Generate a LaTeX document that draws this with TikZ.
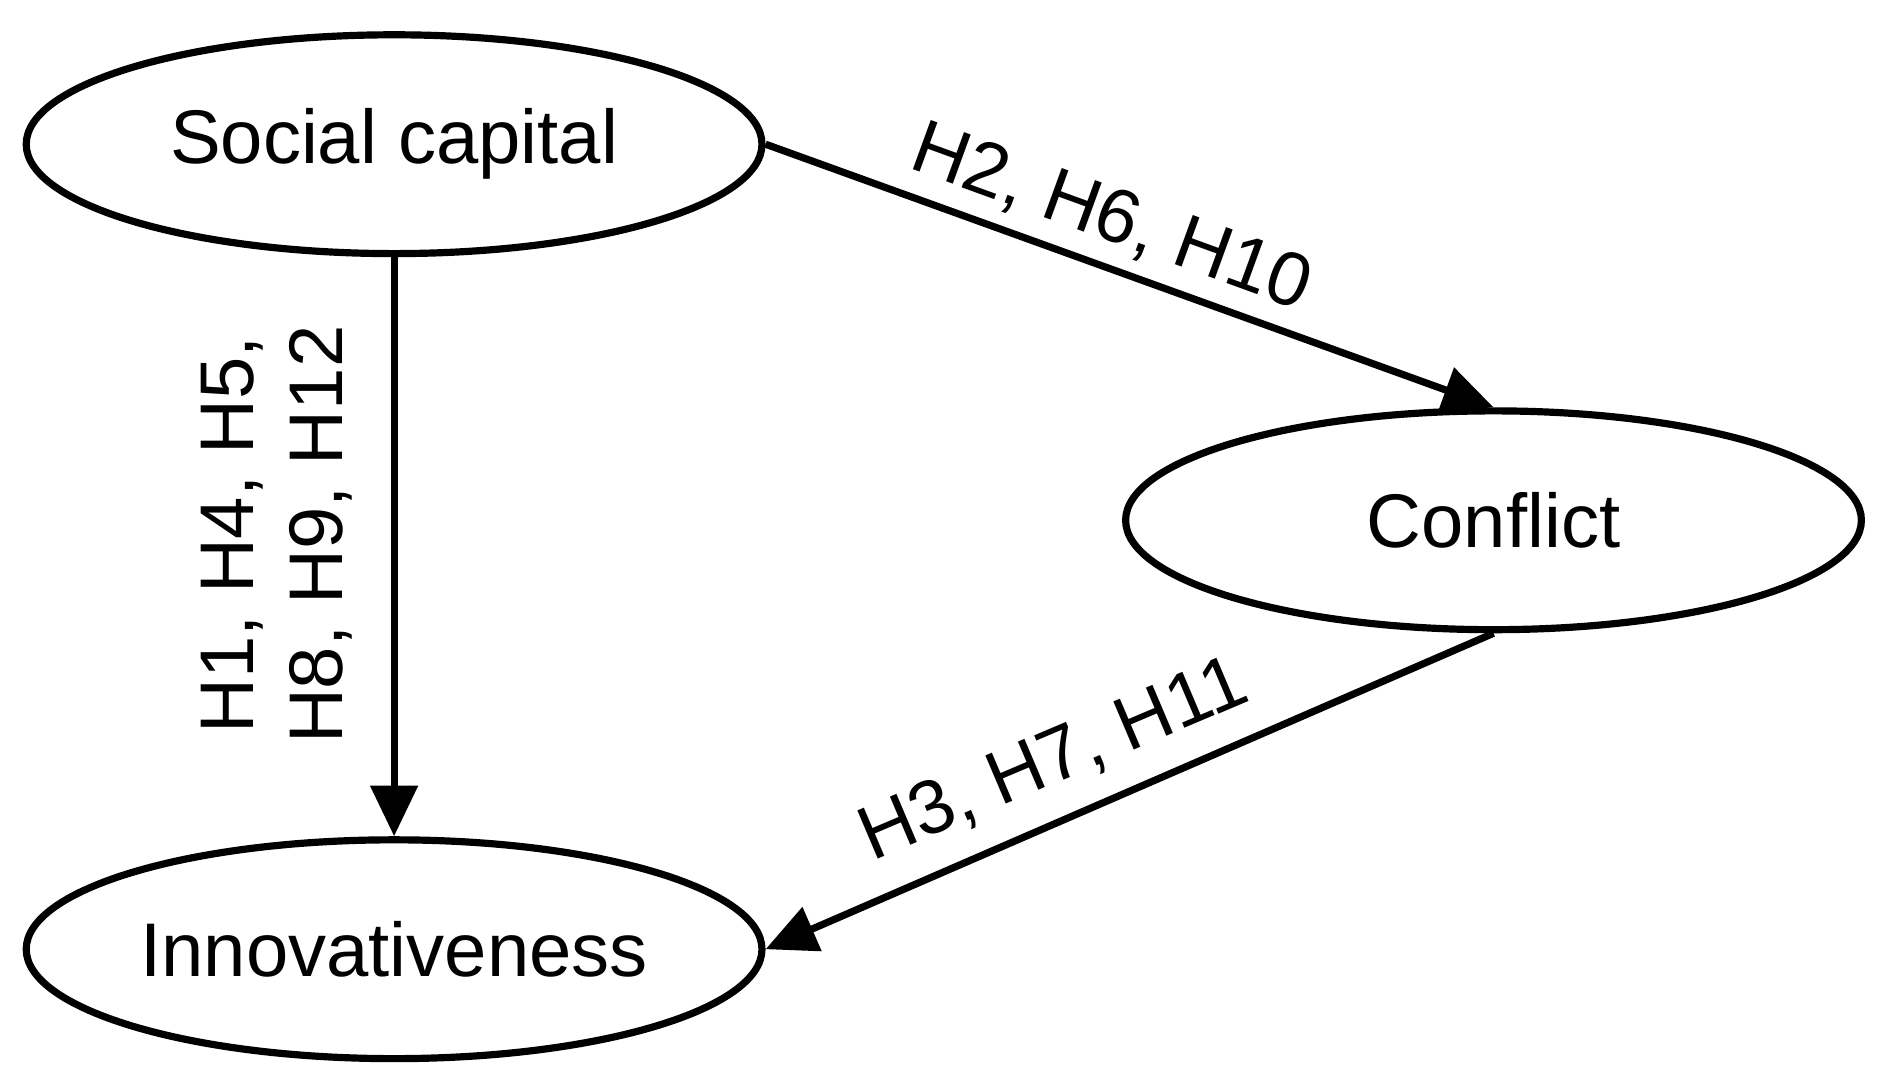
\documentclass[tikz,border=0pt]{standalone}
\usepackage{fontspec}
\setmainfont{Liberation Sans}
\usetikzlibrary{shapes.geometric,arrows.meta}
\begin{document}
\begin{tikzpicture}[x=0.01cm,y=-0.01cm,
  ell/.style={draw,line width=1.7pt,ellipse,inner sep=0pt,minimum width=6.12cm,minimum height=1.82cm,font=\fontsize{18}{21}\selectfont},
  conn/.style={line width=1.7pt,-{Triangle[length=12pt,width=11pt]}},
  lab/.style={font=\fontsize{18}{21}\selectfont,align=center}]
\useasboundingbox (0,0) rectangle (1563,905);
\node[ell] (sc) at (328,120) {Social capital};
\node[ell] (cf) at (1243,433) {Conflict};
\node[ell] (in) at (328,790) {Innovativeness};
\draw[conn] (sc.south) -- (in.north);
\draw[conn] (sc.east) -- (cf.north);
\draw[conn] (cf.south) -- (in.east);
\node[lab,rotate=-20] (l1) at (925,182) {H2, H6, H10};
\node[lab,rotate=23] (l2) at (877,633) {H3, H7, H11};
\node[lab,rotate=90] (l3) at (230,445) {H1, H4, H5,\\H8, H9, H12};
\end{tikzpicture}
\end{document}
